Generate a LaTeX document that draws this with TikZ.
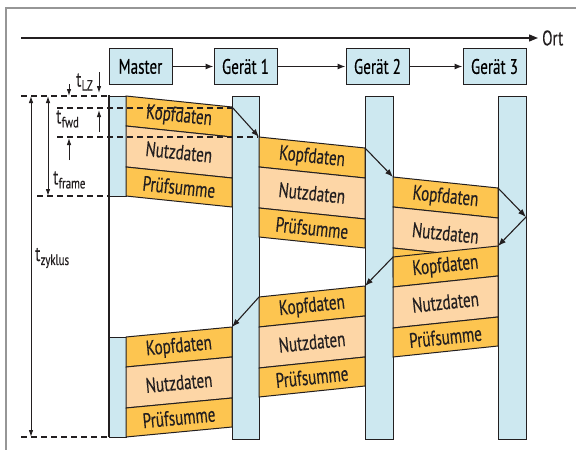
\documentclass[tikz,border=0pt]{standalone}
\usepackage{fontspec}
\setmainfont[FakeStretch=0.72,FakeBold=0.3]{PT Sans}
\usetikzlibrary{arrows.meta}

\definecolor{kopf}{RGB}{253,197,80}
\definecolor{nutz}{RGB}{253,214,166}
\definecolor{bar}{RGB}{205,232,240}
\definecolor{edge}{RGB}{35,31,32}
\definecolor{rim}{RGB}{150,150,150}

% time label: t with a lowered, smaller index
\newcommand\tlabel[1]{t\kern0.3pt\raisebox{-4pt}{\fontsize{15}{15}\selectfont #1}}

% checksum label is left out where a later frame covers it
\newif\ifchecklabel \checklabeltrue

% one data frame: three slanted bands between two lifelines
% #1 left x, #2 right x, #3 top y on the left, #4 top y on the right, #5 name
\newcommand\dataframe[5]{%
  \coordinate (#5tl) at (#1,#3);
  \coordinate (#5tr) at (#2,#4);
  \filldraw[band, fill=kopf] (#1,#3) -- (#2,#4) -- (#2,{#4+30}) -- (#1,{#3+30}) -- cycle;
  \filldraw[band, fill=nutz] (#1,{#3+30}) -- (#2,{#4+30}) -- (#2,{#4+71}) -- (#1,{#3+71}) -- cycle;
  \filldraw[band, fill=kopf] (#1,{#3+71}) -- (#2,{#4+71}) -- (#2,{#4+100}) -- (#1,{#3+100}) -- cycle;
  \pgfmathsetmacro\fang{-atan((#4-#3)/(#2-#1))}%
  \pgfmathsetmacro\fmx{(#1+#2)/2}%
  \pgfmathsetmacro\fmy{(#3+#4)/2}%
  \node[lbl, rotate=\fang] (#5k) at (\fmx,{\fmy+15}) {Kopfdaten};
  \node[lbl, rotate=\fang] (#5n) at (\fmx,{\fmy+50.5}) {Nutzdaten};
  \ifchecklabel
    \node[lbl, rotate=\fang] (#5p) at (\fmx,{\fmy+85.5}) {Prüfsumme};
  \fi
}

\tikzset{
  devbox/.style={draw=edge, fill=bar, line width=1pt, minimum width=63pt,
    minimum height=36pt, inner sep=0pt, font=\fontsize{21}{21}\selectfont},
  lifebar/.style={draw=edge, fill=bar, line width=1pt},
  band/.style={draw=edge, line width=1pt},
  lbl/.style={font=\fontsize{21}{21}\selectfont, inner sep=0pt, text=edge},
  flow/.style={line width=1.1pt, draw=edge, -{Latex[length=8pt,width=6pt]}},
  axisline/.style={line width=1.3pt, draw=edge, -{Triangle[length=9pt,width=7pt]}},
  dimline/.style={line width=0.9pt, draw=edge,
    {Latex[length=7pt,width=4.5pt]}-{Latex[length=7pt,width=4.5pt]}},
  pointer/.style={line width=0.9pt, draw=edge, -{Latex[length=7pt,width=4.5pt]}},
  guide/.style={dash pattern=on 6pt off 4pt, line width=1.5pt, draw=edge},
  dimtext/.style={font=\fontsize{21}{21}\selectfont, inner sep=0pt, text=edge},
}

\begin{document}
\begin{tikzpicture}[x=1pt, y=-1pt]
\useasboundingbox (0,0) rectangle (576,450);
\fill[white] (0,0) rectangle (576,450);

% outer rim
\draw[rim, line width=1.5pt] (6,450) -- (6,8) -- (576,8);

% position axis
\coordinate (ax0) at (21,38);
\coordinate (ax1) at (538,38);
\draw[axisline] (ax0) -- (ax1);
\node[dimtext, anchor=west] (ort) at (542,38) {Ort};

% stations
\node[devbox] (master) at (140.5,66.5) {Master};
\node[devbox] (g1) at (245.5,66.5) {Gerät 1};
\node[devbox] (g2) at (377.5,66.5) {Gerät 2};
\node[devbox] (g3) at (494.5,66.5) {Gerät 3};
\draw[flow] (master) -- (g1);
\draw[flow] (g1) -- (g2);
\draw[flow] (g2) -- (g3);

% lifelines
\filldraw[lifebar] (109,96) rectangle (126,196);
\filldraw[lifebar] (109,337) rectangle (126,437);
\filldraw[lifebar] (232,96) rectangle (259,439);
\filldraw[lifebar] (365,96) rectangle (393,439);
\filldraw[lifebar] (498,96) rectangle (526,439);

% frames travelling out and back
\dataframe{126}{232}{96}{107}{fa}
\dataframe{259}{365}{137}{148}{fb}
\checklabelfalse
\dataframe{393}{498}{177}{188}{fc}
\checklabeltrue
\dataframe{393}{498}{257}{246}{fd}
\dataframe{259}{365}{297}{286}{fe}
\dataframe{126}{232}{337}{327}{ff}

% forwarding arrows
\coordinate (turn) at (526,217);
\draw[flow] (fatr) -- (fbtl);
\draw[flow] (fbtr) -- (fctl);
\draw[flow] (fctr) -- (turn);
\draw[flow] (turn) -- (fdtr);
\draw[flow] (fdtl) -- (fetr);
\draw[flow] (fetl) -- (fftr);

% master time line
\draw[edge, line width=2.5pt] (109,95) -- (109,437);

% time guides
\draw[guide] (21,96) -- (109,96);
\draw[guide] (57,108) -- (232,108);
\draw[guide] (57,137) -- (258,137);
\draw[guide] (37,196) -- (109,196);
\draw[guide] (21,437) -- (109,437);

% durations
\coordinate (zy0) at (31,96);  \coordinate (zy1) at (31,437);
\coordinate (fr0) at (48,96);  \coordinate (fr1) at (48,196);
\draw[dimline] (zy0) -- (zy1);
\draw[dimline] (fr0) -- (fr1);
\node[dimtext, anchor=west] (tzy) at (35,258) {\tlabel{zyklus}};
\node[dimtext, anchor=west] (tfr) at (53,180) {\tlabel{frame}};

\coordinate (lz0) at (99,72);  \coordinate (lz1) at (99,93);
\coordinate (lz2) at (99,132); \coordinate (lz3) at (99,110);
\draw[pointer] (lz0) -- (lz1);
\draw[pointer] (lz2) -- (lz3);
\node[dimtext, anchor=west] (tlz) at (76,82) {\tlabel{LZ}};

\coordinate (fw0) at (69,84);  \coordinate (fw1) at (69,96);
\coordinate (fw2) at (69,160); \coordinate (fw3) at (69,138);
\draw[pointer] (fw0) -- (fw1);
\draw[pointer] (fw2) -- (fw3);
\node[dimtext, anchor=west] (tfw) at (56,119) {\tlabel{fwd}};
\end{tikzpicture}
\end{document}
